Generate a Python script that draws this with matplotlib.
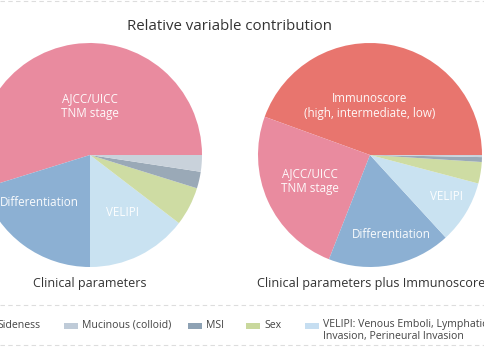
import matplotlib
matplotlib.use("Agg")
import matplotlib.pyplot as plt
from matplotlib.lines import Line2D
from matplotlib.patches import Rectangle

plt.rcParams['font.family'] = ['Open Sans', 'DejaVu Sans']

# share of each variable (%), in drawing order (counter-clockwise from 3 o'clock)
clinical_names = ['AJCC/UICC TNM stage', 'Differentiation', 'VELIPI', 'Sex', 'MSI', 'Mucinous (colloid)']
clinical_values = [54.8, 20.2, 14.6, 5.6, 2.4, 2.4]

immuno_names = ['Immunoscore', 'AJCC/UICC TNM stage', 'Differentiation', 'VELIPI', 'Sex', 'MSI', 'Mucinous (colloid)']
immuno_values = [44.5, 24.6, 17.8, 9.1, 3.1, 0.7, 0.3]

colors = {
    'Immunoscore': '#e8756e',
    'AJCC/UICC TNM stage': '#e98b9f',
    'Differentiation': '#8cb0d3',
    'VELIPI': '#c9e2f1',
    'Sex': '#cedca3',
    'MSI': '#9aa9b7',
    'Mucinous (colloid)': '#c9d2db',
}

legend_names = ['Sideness', 'Mucinous (colloid)', 'MSI', 'Sex',
                'VELIPI: Venous Emboli, Lymphatic\nInvasion, Perineural Invasion']
legend_colors = ['#d9d9d9', '#bfcbd8', '#8ea2b4', '#c9d89d', '#c6def1']

W, H = 485, 360
fig = plt.figure(figsize=(4.85, 3.6), dpi=100)


def pie_axes(cx, cy, r):
    # cx, cy, r in pixels, cy measured from top
    return fig.add_axes([(cx - r) / W, (H - cy - r) / H, 2 * r / W, 2 * r / H])


def draw_pie(ax, names, values):
    ax.pie(values, colors=[colors[n] for n in names], startangle=0,
           counterclock=True, radius=1, wedgeprops=dict(linewidth=0))
    ax.set_xlim(-1, 1)
    ax.set_ylim(-1, 1)
    ax.set_aspect('equal')
    ax.axis('off')


lab = dict(color='white', fontsize=8.4, ha='center', va='center', alpha=0.95,
           linespacing=1.2)

ax1 = pie_axes(90, 155, 112)
draw_pie(ax1, clinical_names, clinical_values)
ax1.text(0, 0.44, 'AJCC/UICC\nTNM stage', **lab)
ax1.text(-0.45, -0.42, 'Differentiation', **lab)
ax1.text(0.29, -0.51, 'VELIPI', **lab)

ax2 = pie_axes(370, 155, 112)
draw_pie(ax2, immuno_names, immuno_values)
ax2.text(0, 0.44, 'Immunoscore\n(high, intermediate, low)', **lab)
ax2.text(-0.54, -0.23, 'AJCC/UICC\nTNM stage', **lab)
ax2.text(0.19, -0.71, 'Differentiation', **lab)
ax2.text(0.68, -0.37, 'VELIPI', **lab)

txt = '#333333'
fig.text(230 / W, 1 - 26 / H, 'Relative variable contribution', fontsize=10.8,
         color=txt, ha='center', va='center')
fig.text(90 / W, 1 - 283 / H, 'Clinical parameters', fontsize=9,
         color=txt, ha='center', va='center')
fig.text(371 / W, 1 - 283 / H, 'Clinical parameters plus Immunoscore', fontsize=9.1,
         color=txt, ha='center', va='center')

# dashed separators
for y in (1, 305, 345):
    fig.add_artist(Line2D([0, 1], [1 - y / H, 1 - y / H], color='#dddddd',
                          linewidth=0.8, linestyle=(0, (4, 3))))

# legend row
patch_x = [-21, 64, 188, 246, 305]
for x, name, c in zip(patch_x, legend_names, legend_colors):
    fig.add_artist(Rectangle((x / W, 1 - 328.5 / H), 14 / W, 6 / H,
                             color=c, linewidth=0, transform=fig.transFigure))
    multi = '\n' in name
    fig.text((x + 18) / W, (1 - 319 / H) if multi else (1 - 325 / H), name,
             fontsize=7.6, color='#444444', ha='left',
             va='top' if multi else 'center', linespacing=1.1,
             bbox=dict(facecolor='white', edgecolor='none', pad=0.5) if multi else None)

fig.savefig('out.png', dpi=100)
